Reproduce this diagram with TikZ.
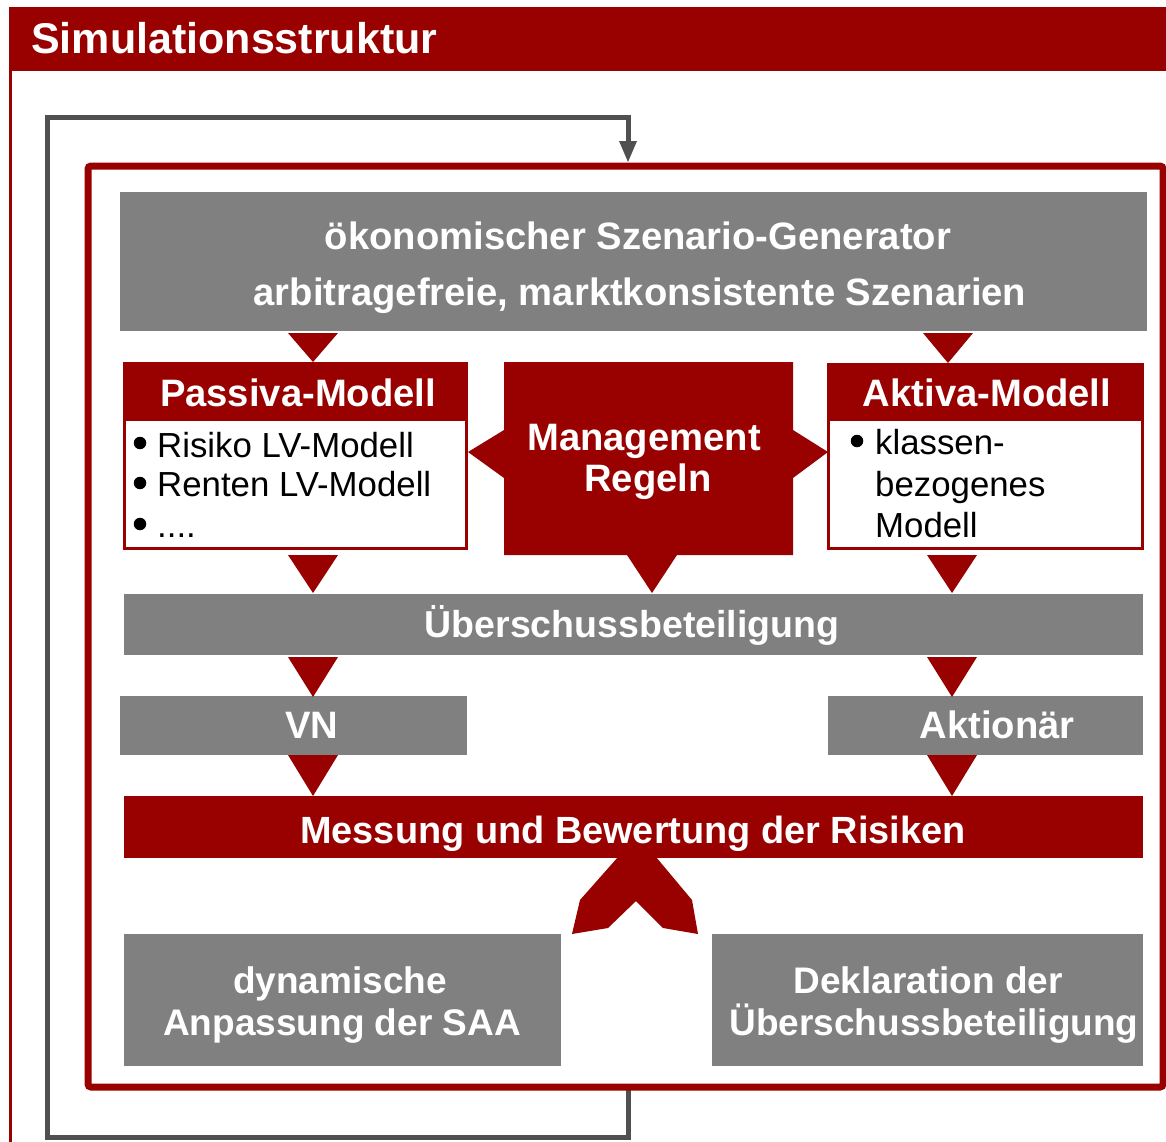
\documentclass[tikz,border=0pt]{standalone}
\usepackage{fontspec}
\setmainfont{Liberation Sans}
\usetikzlibrary{arrows.meta,fit}
\definecolor{dred}{HTML}{990000}
\definecolor{mgray}{HTML}{808080}
\definecolor{dgray}{HTML}{505050}
\tikzset{
  boxg/.style={fill=mgray, draw=none, inner sep=0pt, outer sep=0pt},
  boxr/.style={fill=dred, draw=none, inner sep=0pt, outer sep=0pt},
  btxt/.style={text=white, font=\fontsize{38.2}{42}\selectfont\bfseries, inner sep=0pt, anchor=base},
  bsmall/.style={btxt, font=\fontsize{37}{42}\selectfont\bfseries},
  ntxt/.style={text=black, font=\fontsize{34.8}{40}\selectfont, inner sep=0pt, anchor=base west},
  bul/.style={circle, fill=black, draw=none, minimum size=12.5pt, inner sep=0pt},
  tri/.style={fill=dred, draw=none},
  loopline/.style={draw=dgray, line width=5pt, line join=miter},
}
\begin{document}
\begin{tikzpicture}[x=1pt,y=-1pt]
\useasboundingbox (0,0) rectangle (1166,1141);
\fill[white] (0,0) rectangle (1166,1141);
% outer slide frame and header
\draw[dred, line width=2.5pt] (10.5,60) -- (10.5,1150);
\node[boxr, fit={(9,7) (1170,71)}] (head) {};
\node[text=white, font=\fontsize{43}{48}\selectfont\bfseries, inner sep=0pt, anchor=base west] (title) at (31,53) {Simulationsstruktur};
% feedback loop
\coordinate (fb) at (628,1090);
\coordinate (ft) at (628,142);
\draw[loopline] (fb) |- (47,1137) |- (628,117) -- (ft);
\fill[dgray] (619,141) -- (637,141) -- (628,162) -- cycle;
% inner frame
\node[draw=dred, line width=7pt, rounded corners=3pt, inner sep=0pt, fit={(88,166) (1163,1087)}] (frame) {};
% scenario generator
\node[boxg, fit={(120,192) (1147,331)}] (scen) {};
\node[btxt] (scen1) at (638,249) {ökonomischer Szenario-Generator};
\node[btxt] (scen2) at (640,305) {arbitragefreie, marktkonsistente Szenarien};
% Passiva
\node[fill=white, draw=dred, line width=3pt, inner sep=0pt, fit={(124.5,363.5) (466.5,548.5)}] (pas) {};
\node[boxr, fit={(123,362) (468,421)}] (pashead) {};
\node[btxt] (pastitle) at (298,406) {Passiva-Modell};
\node[bul] (pb1) at (140,443) {};
\node[ntxt] (pt1) at (157,457) {Risiko LV-Modell};
\node[bul] (pb2) at (140,483) {};
\node[ntxt] (pt2) at (157,496) {Renten LV-Modell};
\node[bul] (pb3) at (140,524) {};
\node[ntxt] (pt3) at (157,537) {....};
% Aktiva
\node[fill=white, draw=dred, line width=3pt, inner sep=0pt, fit={(828.5,364.5) (1142.5,548.5)}] (akt) {};
\node[boxr, fit={(827,363) (1144,421)}] (akthead) {};
\node[btxt] (akttitle) at (987,406) {Aktiva-Modell};
\node[bul] (ab1) at (857,441) {};
\node[ntxt] (at1) at (875,454) {klassen-};
\node[ntxt] (at2) at (875,496) {bezogenes};
\node[ntxt] (at3) at (875,537) {Modell};
% Management Regeln
\fill[dred] (504,362) -- (793,362) -- (793,430) -- (828,452) -- (793,478) -- (793,555)
  -- (677,555) -- (652,593) -- (627,555) -- (504,555) -- (504,478) -- (468,452) -- (504,430) -- cycle;
\node[btxt] (mg1) at (644,450) {Management};
\node[btxt] (mg2) at (648,491) {Regeln};
% Ueberschussbeteiligung
\node[boxg, fit={(124,594) (1143,655)}] (ueb) {};
\node[btxt, font=\fontsize{37.5}{42}\selectfont\bfseries] (uebt) at (632,637) {Überschussbeteiligung};
% VN / Aktionaer
\node[boxg, fit={(120,696) (467,755)}] (vn) {};
\node[btxt] (vnt) at (312,738) {VN};
\node[boxg, fit={(828,696) (1143,755)}] (aktn) {};
\node[btxt] (aktnt) at (997,738) {Aktionär};
% Messung
\node[boxr, fit={(124,796) (1143,858)}] (mess) {};
\node[btxt, font=\fontsize{37.9}{42}\selectfont\bfseries] (messt) at (633,843) {Messung und Bewertung der Risiken};
% bottom boxes
\node[boxg, fit={(124,934) (561,1066)}] (dyn) {};
\node[bsmall] (dyn1) at (340,993) {dynamische};
\node[bsmall] (dyn2) at (342,1035) {Anpassung der SAA};
\node[boxg, fit={(712,934) (1143,1066)}] (dek) {};
\node[bsmall] (dek1) at (928,993) {Deklaration der};
\node[bsmall] (dek2) at (934,1035) {Überschussbeteiligung};
% connector triangles
\fill[tri] (288,333) -- (338,333) -- (313,362) -- cycle;
\fill[tri] (923,333) -- (973,333) -- (948,363) -- cycle;
\fill[tri] (288,555) -- (338,555) -- (313,593) -- cycle;
\fill[tri] (927,555) -- (977,555) -- (952,593) -- cycle;
\fill[tri] (288,657) -- (338,657) -- (313,697) -- cycle;
\fill[tri] (927,657) -- (977,657) -- (952,697) -- cycle;
\fill[tri] (288,755) -- (338,755) -- (313,796) -- cycle;
\fill[tri] (927,755) -- (977,755) -- (952,796) -- cycle;
% split arrow
\fill[tri] (618,857) -- (580,900) -- (572,934) -- (608,928) -- (636,901) -- (663,928) -- (698,934) -- (692,900) -- (656,857) -- cycle;
\end{tikzpicture}
\end{document}
